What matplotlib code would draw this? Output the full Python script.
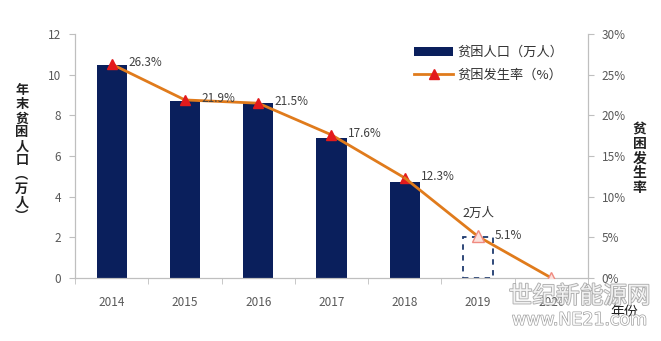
import matplotlib
matplotlib.use("Agg")
import matplotlib.pyplot as plt
import matplotlib.patheffects as pe

plt.rcParams['font.family'] = ['Noto Sans CJK SC', 'DejaVu Sans']

# 数据
years = ["2014", "2015", "2016", "2017", "2018", "2019", "2020"]
people = [10.5, 8.7, 8.6, 6.9, 4.7]          # 万人, 2014-2018
people_2019 = 2.0                             # 预计值（虚线框）
rate = [26.3, 21.9, 21.5, 17.6, 12.3, 5.1, 0]  # %
rate_labels = ["26.3%", "21.9%", "21.5%", "17.6%", "12.3%", "5.1%", ""]

navy = "#0a1f5c"
orange = "#e07b1c"
grey = "#595959"

fig = plt.figure(figsize=(6.61, 3.41), dpi=100)
ax = fig.add_axes([0.1135, 0.185, 0.776, 0.715])
ax2 = ax.twinx()

x = list(range(len(years)))

# 柱状图
ax.bar(x[:5], people, width=0.41, color=navy, label="贫困人口（万人）", zorder=2)
ax.bar(x[5], people_2019, width=0.41, facecolor="none", edgecolor="#1f3a6e",
       linestyle=(0, (3, 3)), linewidth=1.3, zorder=2)
ax.text(x[5], people_2019 + 1.2, "2万人", ha="center", va="center", fontsize=9, color="#333333")

ax.set_xlim(-0.5, 6.5)
ax.set_ylim(0, 12)
ax.set_yticks(range(0, 13, 2))
ax.set_xticks(x)
ax.set_xticklabels(years)
ax.set_xticks([i + 0.5 for i in range(-1, 7)], minor=True)
ax.tick_params(axis="x", which="major", length=0, pad=13, labelsize=8.5, labelcolor=grey)
ax.tick_params(axis="x", which="minor", length=4, color="#bfbfbf", direction="out")
ax.tick_params(axis="y", length=4, color="#bfbfbf", labelsize=8.5, labelcolor=grey, pad=6)

# 折线图
ax2.plot(x[:5], rate[:5], color=orange, linewidth=2, marker="^", markersize=7,
         markerfacecolor="#e31a1c", markeredgecolor="#e31a1c", label="贫困发生率（%）", zorder=3)
ax2.plot(x[4:], rate[4:], color=orange, linewidth=2, zorder=3)
ax2.plot(x[5:], rate[5:], linestyle="none", marker="^", markersize=8,
         markerfacecolor="#fbe0dc", markeredgecolor="#f08a80", zorder=4)
for xi, r, lab in zip(x, rate, rate_labels):
    if lab:
        ax2.annotate(lab, (xi, r), xytext=(12, 1), textcoords="offset points",
                     ha="left", va="center", fontsize=8.5, color="#404040")

ax2.set_ylim(0, 30)
ax2.set_yticks(range(0, 31, 5))
ax2.set_yticklabels([f"{v}%" for v in range(0, 31, 5)])
ax2.tick_params(axis="y", length=4, color="#bfbfbf", labelsize=8.5, labelcolor=grey, pad=6)

for a in (ax, ax2):
    a.spines["top"].set_visible(False)
    a.spines["left"].set_color("#bfbfbf")
    a.spines["right"].set_color("#bfbfbf")
    a.spines["bottom"].set_color("#bfbfbf")

# 轴标题（竖排）
left_label = "年末贫困人口︵万人︶"
fig.text(0.033, 0.55, "\n".join(left_label), ha="center", va="center",
         fontsize=9.5, fontweight="bold", color="#222222", linespacing=1.0)
fig.text(0.968, 0.535, "\n".join("贫困发生率"), ha="center", va="center",
         fontsize=10, fontweight="bold", color="#222222", linespacing=1.05)
fig.text(0.945, 0.085, "年份", ha="center", va="center", fontsize=10, color="#222222")

# 图例
h1, l1 = ax.get_legend_handles_labels()
h2, l2 = ax2.get_legend_handles_labels()
ax.legend(h1 + h2, l1 + l2, loc="upper right", bbox_to_anchor=(0.975, 1.0), frameon=False,
          fontsize=9.5, handlelength=3.0, labelspacing=0.75, handletextpad=0.3,
          labelcolor="#333333")

# 水印
wm = fig.text(0.877, 0.13, "世纪新能源网", ha="center", va="center", fontsize=17,
              color="white", alpha=0.85)
wm.set_path_effects([pe.Stroke(linewidth=1.3, foreground="#a0a0a0"), pe.Normal()])
wm2 = fig.text(0.877, 0.062, "www.NE21.com", ha="center", va="center", fontsize=12.5,
               color="white", family="DejaVu Sans")
wm2.set_path_effects([pe.Stroke(linewidth=1.0, foreground="#a0a0a0"), pe.Normal()])

fig.savefig("out.png", dpi=100)
